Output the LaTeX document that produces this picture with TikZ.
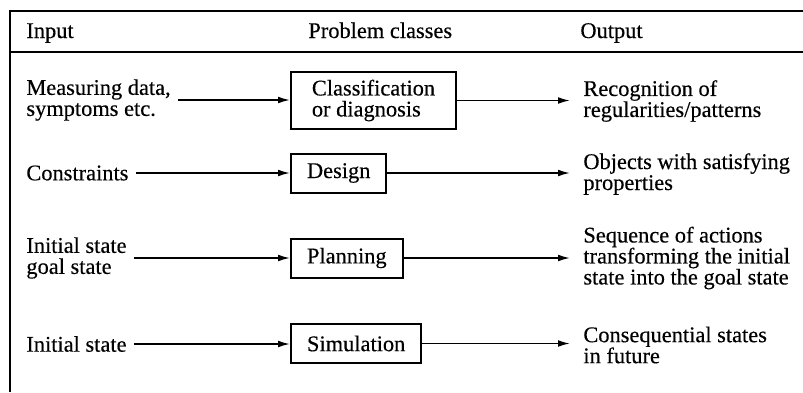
\documentclass[tikz,border=0pt]{standalone}
\usepackage{fontspec}
\setmainfont[FakeBold=0.35]{Liberation Serif}
\usetikzlibrary{positioning,arrows.meta}

\begin{document}
\begin{tikzpicture}[x=0.5pt,y=-0.5pt,
  box/.style={draw,line width=1pt,anchor=west,inner xsep=8pt,
    minimum height=19.5pt},
  txt/.style={anchor=west,align=left,inner sep=3pt},
  head/.style={anchor=base west,inner sep=3pt},
  arr/.style={-{Latex[length=6pt,width=3.4pt]},line width=0.8pt}]
\fontsize{11.2}{10.5}\selectfont
\useasboundingbox (0,0) rectangle (803,392);
% frame and header
\draw [line width=1pt] (803,11) -- (10,11) -- (10,392) (10,52) -- (803,52);
\path
  (20,38) node [head] (hin) {Input}
  (302,38) node [head] (hcls) {Problem classes}
  (574,38) node [head] (hout) {Output};
% problem classes
\path
  (290,100.5) node [box,minimum width=82.5pt,minimum height=27.5pt,
    align=left] (cls) {Classification\\or diagnosis}
  (290,173) node [box] (des) {Design}
  (290,258) node [box] (pln) {Planning}
  (290,343.5) node [box] (sim) {Simulation};
% inputs
\path
  (20,100) node [txt] (meas) {Measuring data,\\symptoms etc.}
  (20,173) node [txt] (cons) {Constraints}
  (20,258) node [txt] (goal) {Initial state\\goal state}
  (20,344) node [txt] (init) {Initial state};
% outputs
\path
  (577,101) node [txt] (recog) {Recognition of\\regularities/patterns}
  (577,174) node [txt] (obj) {Objects with satisfying\\properties}
  (577,258) node [txt] (seq) {Sequence of actions\\transforming the initial\\state into the goal state}
  (577,345) node [txt] (fut) {Consequential states\\in future};
\draw (meas.east) [arr,shorten <=0.5pt] -- (meas.east -| cls.west);
\draw (cons.east) [arr,shorten <=0.5pt] -- (cons.east -| des.west);
\draw (goal.east) [arr,shorten <=0.5pt] -- (goal.east -| pln.west);
\draw (init.east) [arr,shorten <=0.5pt] -- (init.east -| sim.west);
\draw (cls.east) [arr,shorten >=3.5pt] -- (cls.east -| recog.west);
\draw (des.east) [arr,shorten >=3.5pt] -- (des.east -| obj.west);
\draw (pln.east) [arr,shorten >=3.5pt] -- (pln.east -| seq.west);
\draw (sim.east) [arr,shorten >=3.5pt] -- (sim.east -| fut.west);
\end{tikzpicture}
\end{document}
